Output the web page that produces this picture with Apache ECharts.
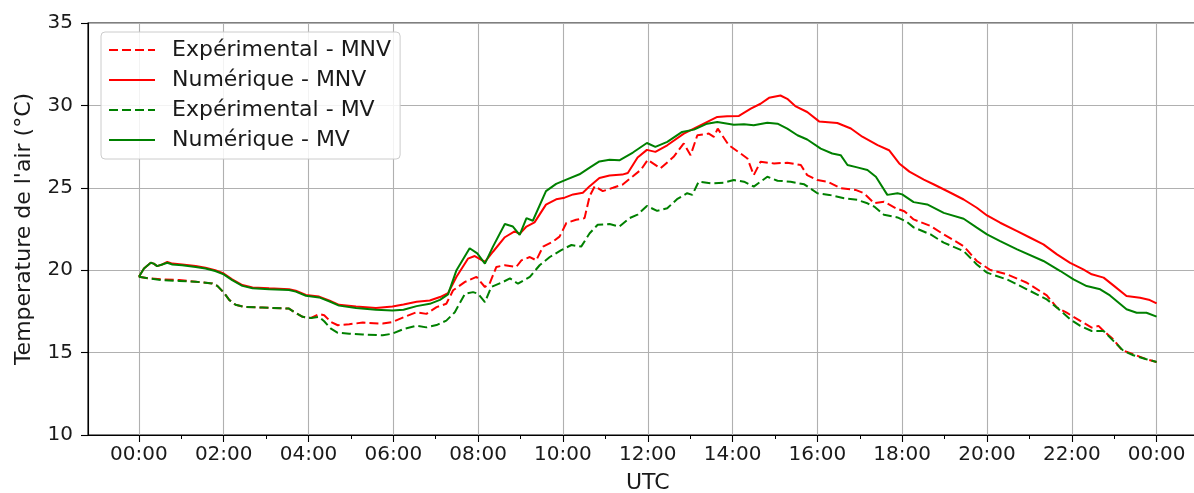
<!DOCTYPE html>
<html>
<head>
<meta charset="utf-8">
<script src="https://cdn.jsdelivr.net/npm/echarts@6/dist/echarts.min.js"></script>
<style>
html,body{margin:0;padding:0;background:#fff;overflow:hidden;width:1194px;height:493px;}
#chart{width:1208px;height:493px;}
</style>
</head>
<body>
<div id="chart"></div>
<script>
// Hours (UTC) and air temperature (°C)
const seriesNames = ['Expérimental - MNV', 'Numérique - MNV', 'Expérimental - MV', 'Numérique - MV'];
const xTickHours = [0, 2, 4, 6, 8, 10, 12, 14, 16, 18, 20, 22, 24];
const xMinorHours = [1, 3, 5, 7, 9, 11, 13, 15, 17, 19, 21, 23];

const tExpMNV = [0,0.24,0.55,0.95,1.34,1.73,1.85,2.0,2.13,2.28, 2.48,2.91,3.54,3.66,3.86,4.06,4.25,4.37,4.53,4.69, 4.96,5.28,5.75,5.98,6.24,6.55,6.78,7.02,7.25,7.41, 7.69,7.96,8.16,8.27,8.43,8.63,8.9,9.02,9.22,9.37, 9.53,9.76,9.92,10.0,10.08,10.31,10.51,10.63,10.75,10.94, 11.18,11.41,11.65,11.84,12.0,12.3,12.61,12.85,13.01,13.17, 13.44,13.56,13.65,13.91,14.19,14.35,14.5,14.66,14.98,15.29, 15.61,15.76,16.0,16.24,16.55,16.9,17.1,17.34,17.57,17.85, 18.05,18.27,18.67,18.98,19.45,19.76,20.08,20.47,20.94,21.41, 21.65,21.88,22.2,22.47,22.63,22.75,22.98,23.18,23.45,23.76, 24.0];
const vExpMNV = [19.6,19.5,19.45,19.4,19.3,19.2,19.05,18.65,18.2,17.9, 17.77,17.73,17.67,17.47,17.17,17.1,17.33,17.27,16.86,16.66, 16.72,16.82,16.76,16.86,17.14,17.45,17.35,17.76,17.96,18.78, 19.29,19.6,18.98,19.18,20.2,20.3,20.2,20.6,20.8,20.6, 21.43,21.73,22.04,22.45,22.86,23.06,23.16,24.5,25.1,24.8, 25.0,25.2,25.7,26.1,26.7,26.18,26.88,27.69,26.98,28.19, 28.29,28.09,28.59,27.59,27.08,26.78,25.77,26.58,26.48,26.52, 26.38,25.77,25.47,25.37,24.97,24.87,24.67,24.06,24.16,23.76, 23.58,23.08,22.68,22.17,21.46,20.56,20.01,19.75,19.24,18.47, 17.73,17.42,16.92,16.52,16.62,16.31,15.81,15.16,14.9,14.6, 14.43];

const tNumMNV = [0,0.12,0.28,0.35,0.43,0.55,0.67,0.79,1.02,1.34, 1.57,1.8,2.0,2.2,2.44,2.68,3.07,3.54,3.7,3.94, 4.25,4.5,4.72,5.12,5.59,5.98,6.24,6.55,6.86,7.1, 7.29,7.49,7.76,7.92,8.16,8.35,8.63,8.86,8.98,9.14, 9.33,9.6,9.84,10.04,10.24,10.47,10.63,10.86,11.1,11.4, 11.53,11.76,11.98,12.18,12.46,12.85,13.24,13.64,13.87,14.15, 14.43,14.66,14.86,15.13,15.29,15.49,15.76,16.04,16.47,16.79, 17.06,17.42,17.69,17.93,18.17,18.51,18.75,19.14,19.45,19.76, 20.0,20.31,20.71,21.02,21.33,21.65,21.96,22.27,22.47,22.75, 22.98,23.29,23.61,23.84,24.0];
const vNumMNV = [19.6,20.1,20.45,20.4,20.25,20.35,20.5,20.4,20.35,20.25, 20.15,20.0,19.8,19.45,19.1,18.95,18.9,18.85,18.75,18.5, 18.4,18.15,17.9,17.8,17.7,17.8,17.92,18.08,18.16,18.37, 18.6,19.6,20.7,20.86,20.5,21.12,22.0,22.35,22.2,22.65, 22.9,23.98,24.3,24.4,24.6,24.7,25.1,25.6,25.75,25.8, 25.9,26.84,27.3,27.18,27.58,28.29,28.79,29.3,29.34,29.36, 29.8,30.1,30.46,30.6,30.4,29.94,29.6,29.03,28.93,28.6, 28.1,27.59,27.28,26.48,25.98,25.5,25.2,24.7,24.29,23.79, 23.32,22.88,22.37,21.97,21.57,20.96,20.45,20.05,19.75,19.55, 19.08,18.43,18.33,18.19,17.99];

const tExpMV = [0,0.24,0.55,0.95,1.34,1.73,1.85,2.0,2.13,2.28, 2.48,2.91,3.54,3.66,3.86,4.06,4.25,4.37,4.53,4.69, 4.96,5.28,5.75,5.98,6.24,6.55,6.78,7.02,7.25,7.45, 7.69,7.88,8.0,8.16,8.31,8.59,8.75,8.94,9.22,9.45, 9.69,9.96,10.2,10.43,10.63,10.82,11.1,11.33,11.57,11.76, 11.98,12.22,12.46,12.69,12.93,13.05,13.2,13.48,13.8,14.03, 14.27,14.5,14.82,15.06,15.37,15.69,16.0,16.28,16.63,16.94, 17.18,17.34,17.57,17.89,18.1,18.27,18.67,18.98,19.45,19.76, 20.0,20.47,20.94,21.41,21.65,21.96,22.2,22.47,22.75,22.98, 23.22,23.45,23.76,24.0];
const vExpMV = [19.6,19.5,19.4,19.35,19.3,19.2,19.05,18.65,18.2,17.9, 17.77,17.73,17.67,17.47,17.17,17.1,17.17,16.9,16.45,16.2, 16.15,16.1,16.05,16.15,16.43,16.63,16.53,16.67,16.94,17.45, 18.57,18.67,18.57,18.06,18.98,19.29,19.5,19.18,19.6,20.3, 20.8,21.22,21.53,21.43,22.24,22.76,22.8,22.65,23.16,23.37, 23.9,23.6,23.76,24.31,24.67,24.57,25.37,25.27,25.31,25.47, 25.37,25.07,25.67,25.43,25.37,25.21,24.67,24.57,24.37,24.27, 24.06,23.86,23.36,23.2,22.95,22.6,22.17,21.67,21.16,20.35, 19.85,19.44,18.84,18.23,17.73,17.02,16.62,16.31,16.31,15.71, 15.1,14.84,14.6,14.43];

const tNumMV = [0,0.12,0.28,0.35,0.43,0.55,0.67,0.79,1.02,1.34, 1.57,1.8,2.0,2.2,2.44,2.68,3.07,3.54,3.7,3.94, 4.25,4.5,4.72,5.12,5.59,5.98,6.24,6.55,6.86,7.1, 7.29,7.49,7.8,7.98,8.16,8.35,8.63,8.82,8.98,9.14, 9.29,9.6,9.84,10.08,10.39,10.63,10.86,11.1,11.33,11.65, 11.98,12.18,12.46,12.81,13.09,13.4,13.64,14.03,14.27,14.5, 14.82,15.06,15.29,15.53,15.76,16.08,16.35,16.55,16.71,16.94, 17.18,17.38,17.65,17.89,18.0,18.27,18.59,18.98,19.45,19.76, 20.0,20.31,20.71,21.33,21.73,22.04,22.35,22.67,22.9,23.29, 23.53,23.76,24.0];
const vNumMV = [19.6,20.1,20.45,20.4,20.25,20.35,20.45,20.35,20.3,20.2, 20.1,19.95,19.75,19.4,19.05,18.9,18.85,18.8,18.7,18.45, 18.35,18.1,17.85,17.7,17.6,17.55,17.6,17.82,17.96,18.2, 18.53,20.0,21.33,21.02,20.4,21.43,22.8,22.65,22.14,23.16, 23.0,24.8,25.24,25.5,25.82,26.22,26.6,26.7,26.67,27.14, 27.72,27.48,27.79,28.39,28.53,28.89,28.99,28.83,28.85,28.79, 28.95,28.89,28.59,28.19,27.93,27.38,27.08,26.98,26.38,26.24, 26.08,25.67,24.57,24.67,24.6,24.13,23.99,23.48,23.12,22.58, 22.17,21.77,21.26,20.56,19.95,19.44,19.04,18.84,18.47,17.63, 17.42,17.42,17.18];

function pairs(t, v) {
  const n = Math.min(t.length, v.length);
  const out = [];
  for (let i = 0; i < n; i++) out.push([t[i], v[i]]);
  return out;
}
function hhmm(h) {
  const hh = Math.round(h) % 24;
  return (hh < 10 ? '0' : '') + hh + ':00';
}

const FONT = 'DejaVu Sans';
const TXT = '#1a1a1a';
const RED = '#ff0000', GREEN = '#008000';

const chart = echarts.init(document.getElementById('chart'), null, {renderer: 'canvas'});

function lineSeries(name, data, color, dashed) {
  return {
    name: name,
    type: 'line',
    data: data,
    xAxisIndex: 0,
    yAxisIndex: 0,
    showSymbol: false,
    symbol: 'none',
    smooth: false,
    animation: false,
    lineStyle: {color: color, width: 2, type: dashed ? [9, 4] : 'solid'},
    itemStyle: {color: color},
    emphasis: {disabled: true}
  };
}

chart.setOption({
  animation: false,
  backgroundColor: '#ffffff',
  textStyle: {fontFamily: FONT},
  grid: {
    left: 88, top: 23, right: 0.5, bottom: 58,
    outerBoundsMode: 'none',
    containLabel: false,
    show: true, borderColor: '#000000', borderWidth: 1.1, backgroundColor: 'transparent'
  },
  legend: {
    orient: 'vertical',
    left: 101, top: 32,
    padding: [7, 9, 8, 7],
    itemWidth: 46, itemHeight: 14, itemGap: 8,
    backgroundColor: 'rgba(255,255,255,0.85)',
    borderColor: '#cccccc', borderWidth: 1, borderRadius: 4,
    selectedMode: false,
    itemStyle: {opacity: 0, borderWidth: 0},
    textStyle: {fontFamily: FONT, fontSize: 22, color: TXT, lineHeight: 22, padding: [0, 0, 0, 12]},
    data: seriesNames
  },
  xAxis: [{
    type: 'value',
    min: -1.2, max: 25.2,
    name: 'UTC', nameLocation: 'middle', nameGap: 37,
    nameTextStyle: {fontFamily: FONT, fontSize: 22, color: TXT},
    axisLine: {show: true, onZero: false, lineStyle: {color: '#000000', width: 1.1}},
    axisTick: {show: true, customValues: xTickHours, length: 7, lineStyle: {color: '#000000', width: 1.1}},
    axisLabel: {show: true, customValues: xTickHours, formatter: hhmm, margin: 10,
      fontFamily: FONT, fontSize: 20, color: TXT},
    splitLine: {show: true, lineStyle: {color: '#b0b0b0', width: 1.1}},
    minorTick: {show: false}
  }, {
    type: 'value',
    min: -1.2, max: 25.2,
    position: 'bottom',
    axisLine: {show: false},
    axisTick: {show: true, customValues: xMinorHours, length: 4, lineStyle: {color: '#000000', width: 1}},
    axisLabel: {show: false},
    splitLine: {show: false}
  }],
  yAxis: [{
    type: 'value',
    min: 10, max: 35, interval: 5,
    name: 'Temperature de l\'air (°C)', nameLocation: 'middle', nameGap: 53, nameRotate: 90,
    nameTextStyle: {fontFamily: FONT, fontSize: 22, color: TXT},
    axisLine: {show: true, onZero: false, lineStyle: {color: '#000000', width: 1.1}},
    axisTick: {show: true, length: 7, lineStyle: {color: '#000000', width: 1.1}},
    axisLabel: {show: true, margin: 15, fontFamily: FONT, fontSize: 20, color: TXT},
    splitLine: {show: true, lineStyle: {color: '#b0b0b0', width: 1.1}}
  }],
  series: [
    lineSeries(seriesNames[0], pairs(tExpMNV, vExpMNV), RED, true),
    lineSeries(seriesNames[1], pairs(tNumMNV, vNumMNV), RED, false),
    lineSeries(seriesNames[2], pairs(tExpMV, vExpMV), GREEN, true),
    lineSeries(seriesNames[3], pairs(tNumMV, vNumMV), GREEN, false)
  ]
});
</script>
</body>
</html>
